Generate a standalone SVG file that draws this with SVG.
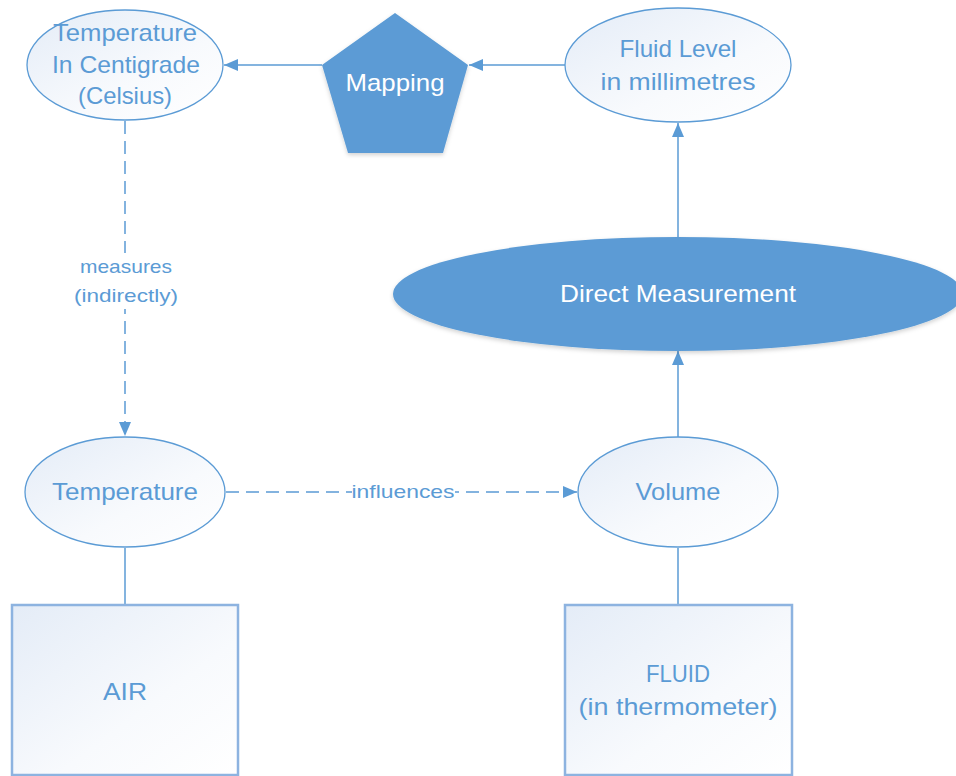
<svg xmlns="http://www.w3.org/2000/svg" width="956" height="776" viewBox="0 0 956 776">
<style>
.lbl{font-family:"Liberation Sans",Arial,sans-serif;font-size:24px;fill:#5b9bd5;text-anchor:middle}
.wlbl{font-family:"Liberation Sans",Arial,sans-serif;font-size:24px;fill:#ffffff;text-anchor:middle}
.small{font-family:"Liberation Sans",Arial,sans-serif;font-size:19px;fill:#5b9bd5;text-anchor:middle}
.ell{fill:url(#pale);stroke:#5b9bd5;stroke-width:1.3}
.box{fill:url(#pale);stroke:#8db3e0;stroke-width:2.5}
.solid{fill:#5b9bd5;stroke:none}
.conn{stroke:#5b9bd5;stroke-width:1.5;fill:none}
.dash{stroke-dasharray:13 7}
</style>
<defs>
<linearGradient id="pale" x1="0" y1="0" x2="1" y2="1">
<stop offset="0" stop-color="#e4ecf7"/>
<stop offset="0.6" stop-color="#f8fafd"/>
<stop offset="1" stop-color="#ffffff"/>
</linearGradient>
<filter id="sh" x="-10%" y="-10%" width="120%" height="130%">
<feDropShadow dx="0" dy="2" stdDeviation="2" flood-color="#000" flood-opacity="0.18"/>
</filter>
<marker id="arr" markerUnits="userSpaceOnUse" markerWidth="16" markerHeight="14" refX="14" refY="6" orient="auto">
<path d="M0,0 L14,6 L0,12 Z" fill="#5b9bd5"/>
</marker>
</defs>

<g id="connectors">
<line class="conn" x1="322" y1="65" x2="224" y2="65" marker-end="url(#arr)"/>
<line class="conn" x1="565" y1="65" x2="469" y2="65" marker-end="url(#arr)"/>
<line class="conn" x1="678" y1="237" x2="678" y2="123" marker-end="url(#arr)"/>
<line class="conn" x1="678" y1="437" x2="678" y2="351" marker-end="url(#arr)"/>
<line class="conn dash" x1="125" y1="121" x2="125" y2="436" marker-end="url(#arr)"/>
<line class="conn dash" x1="226" y1="492" x2="577" y2="492" marker-end="url(#arr)"/>
<line class="conn" x1="125" y1="548" x2="125" y2="605"/>
<line class="conn" x1="678" y1="548" x2="678" y2="605"/>
<rect x="74" y="253" width="104" height="56" fill="#ffffff"/>
<text class="small" x="126" y="273" textLength="92" lengthAdjust="spacingAndGlyphs">measures</text>
<text class="small" x="126" y="302" textLength="104" lengthAdjust="spacingAndGlyphs">(indirectly)</text>
<rect x="352" y="480" width="103" height="24" fill="#ffffff"/>
<text class="small" x="403" y="498" textLength="103" lengthAdjust="spacingAndGlyphs">influences</text>
</g>

<g id="temp-celsius">
<ellipse class="ell" cx="125" cy="65" rx="98" ry="55"/>
<text class="lbl" x="125" y="41" textLength="144" lengthAdjust="spacingAndGlyphs">Temperature</text>
<text class="lbl" x="126" y="73" textLength="148" lengthAdjust="spacingAndGlyphs">In Centigrade</text>
<text class="lbl" x="125" y="104" textLength="94" lengthAdjust="spacingAndGlyphs">(Celsius)</text>
</g>

<g id="mapping">
<polygon class="solid" filter="url(#sh)" points="395,13 468,65 443,153 348,153 322,65"/>
<text class="wlbl" x="395" y="91" textLength="99" lengthAdjust="spacingAndGlyphs">Mapping</text>
</g>

<g id="fluid-level">
<ellipse class="ell" cx="678" cy="65" rx="113" ry="57"/>
<text class="lbl" x="678" y="57" textLength="117" lengthAdjust="spacingAndGlyphs">Fluid Level</text>
<text class="lbl" x="678" y="90" textLength="155" lengthAdjust="spacingAndGlyphs">in millimetres</text>
</g>

<g id="direct-measurement">
<ellipse class="solid" filter="url(#sh)" cx="678" cy="294" rx="285" ry="57"/>
<text class="wlbl" x="678" y="302" textLength="236" lengthAdjust="spacingAndGlyphs">Direct Measurement</text>
</g>

<g id="temperature">
<ellipse class="ell" cx="125" cy="492" rx="100" ry="55"/>
<text class="lbl" x="125" y="500" textLength="146" lengthAdjust="spacingAndGlyphs">Temperature</text>
</g>

<g id="volume">
<ellipse class="ell" cx="678" cy="492" rx="100" ry="55"/>
<text class="lbl" x="678" y="500" textLength="85" lengthAdjust="spacingAndGlyphs">Volume</text>
</g>

<g id="air">
<rect class="box" x="12" y="605" width="226" height="170"/>
<text class="lbl" x="125" y="700" textLength="44" lengthAdjust="spacingAndGlyphs">AIR</text>
</g>

<g id="fluid">
<rect class="box" x="565" y="605" width="227" height="170"/>
<text class="lbl" x="678" y="682" textLength="64" lengthAdjust="spacingAndGlyphs">FLUID</text>
<text class="lbl" x="678" y="715" textLength="199" lengthAdjust="spacingAndGlyphs">(in thermometer)</text>
</g>
</svg>
